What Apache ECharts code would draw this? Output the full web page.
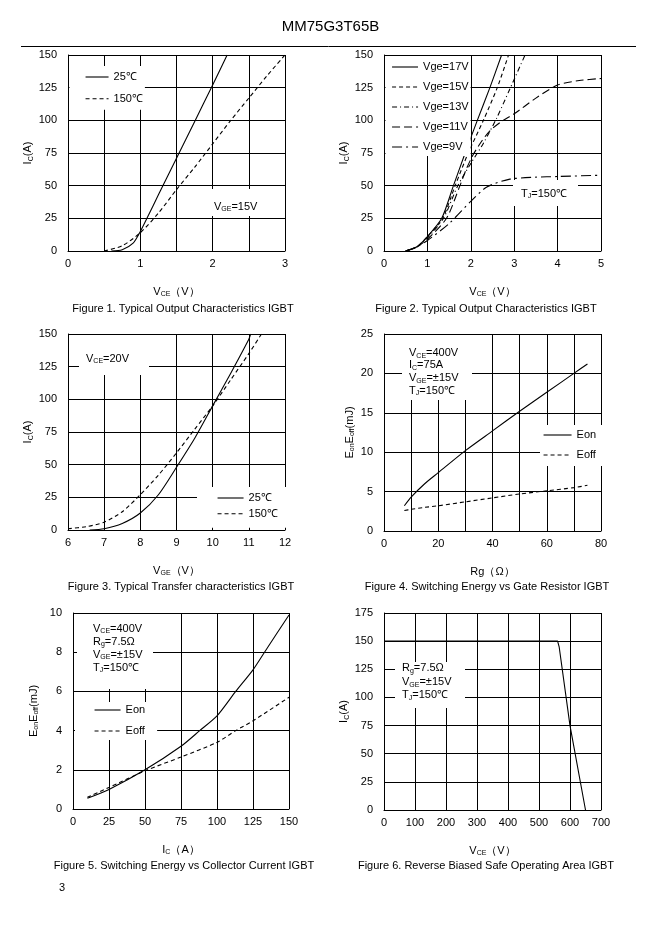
<!DOCTYPE html>
<html><head><meta charset="utf-8">
<script src="https://cdn.jsdelivr.net/npm/echarts/dist/echarts.min.js"></script>
<style>html,body{margin:0;padding:0;background:#fff}#c{width:661px;height:935px}</style>
</head><body><div id="c"></div>
<script>
// ---------- DATA ----------
// Figure 1: Ic vs Vce, Vge=15V
const f1x25 = [0.6, 0.75, 0.9, 1.0, 1.1, 1.25, 1.5, 1.75, 2.0, 2.2];
const f1y25 = [0, 1, 6, 15, 26, 43, 71, 99, 127, 150];
const f1x150 = [0.5, 0.75, 1.0, 1.25, 1.5, 1.75, 2.0, 2.25, 2.5, 2.75, 3.0];
const f1y150 = [0, 4, 14, 29, 47, 64, 82, 100, 117, 134, 150];
// Figure 2: Ic vs Vce at Tj=150C
const f2x17 = [0.5, 0.75, 1.0, 1.33, 1.6, 1.87, 2.15, 2.44, 2.71];
const f2y17 = [0, 3, 11, 25, 50, 75, 100, 125, 150];
const f2x15 = [0.5, 0.75, 1.0, 1.35, 1.64, 1.94, 2.29, 2.61, 2.87];
const f2y15 = [0, 3, 11, 25, 50, 75, 100, 125, 150];
const f2x13 = [0.5, 0.75, 1.0, 1.37, 1.7, 2.0, 2.3, 2.6, 2.9, 3.25];
const f2y13 = [0, 3, 10, 25, 50, 67, 83, 102, 124, 150];
const f2x11 = [0.5, 0.75, 1.0, 1.44, 1.75, 1.9, 2.06, 2.25, 2.44, 2.7, 3.0, 3.5, 4.0, 4.5, 5.0];
const f2y11 = [0, 3, 9, 25, 50, 63, 74, 84, 92, 99, 105, 117, 127, 130.5, 132];
const f2x9 = [0.5, 0.75, 1.0, 1.5, 2.0, 2.37, 2.9, 3.5, 4.0, 5.0];
const f2y9 = [0, 3, 8, 21, 38, 49, 55, 56.5, 57, 58];
// Figure 3: transfer characteristics
const f3x25 = [6.6, 7.0, 7.5, 8.0, 8.5, 9.0, 9.5, 10.0, 10.5, 11.0, 11.05];
const f3y25 = [0, 1, 5, 13, 27, 48, 70, 95, 120, 146, 150];
const f3x150 = [6.0, 6.5, 7.0, 7.5, 8.0, 8.5, 9.0, 9.5, 10.0, 10.5, 11.0, 11.35];
const f3y150 = [1, 2.5, 6, 14, 27, 42, 59, 77, 95, 115, 135, 150];
// Figure 4: switching energy vs Rg
const f4rg = [7.5, 10, 15, 20, 30, 40, 50, 60, 70, 75];
const f4eon = [3.2, 4.3, 6.0, 7.4, 10.2, 12.7, 15.2, 17.6, 20.0, 21.2];
const f4eoff = [2.6, 2.75, 3.0, 3.2, 3.7, 4.2, 4.7, 5.1, 5.5, 5.8];
// Figure 5: switching energy vs Ic
const f5icOn = [10, 25, 50, 75, 88, 100, 113, 125, 133, 150];
const f5eon = [0.55, 1.0, 2.0, 3.2, 4.0, 4.75, 6.0, 7.1, 8.0, 9.9];
const f5icOff = [10, 25, 50, 75, 100, 113, 125, 150];
const f5eoff = [0.6, 1.1, 1.95, 2.65, 3.4, 4.0, 4.5, 5.7];
// Figure 6: RBSOA
const f6vce = [0, 560, 565, 600, 650];
const f6ic = [150, 150, 145, 75, 0];

// ---------- CHART ----------
const FONT = '"Liberation Sans", Arial, Helvetica, sans-serif';
const RICH = {
  n: {fontSize: 11, fontFamily: FONT, color: '#000', lineHeight: 13},
  s: {fontSize: 7, fontFamily: FONT, color: '#000', lineHeight: 8, verticalAlign: 'bottom'}
};
const pts = (xs, ys) => xs.map((x, i) => [x, ys[i]]);

const grids = [
  {left: 68, top: 55, width: 217, height: 196},
  {left: 384, top: 55, width: 217, height: 196},
  {left: 68, top: 334, width: 217, height: 196},
  {left: 384, top: 334, width: 217, height: 197},
  {left: 73, top: 613, width: 216, height: 196},
  {left: 384, top: 613, width: 217, height: 197}
];

function xAx(i, min, max, interval, fmt, name) {
  return {
    type: 'value', gridIndex: i, min, max, interval,
    axisLine: {show: true, lineStyle: {color: '#000', width: 1}},
    axisTick: {show: false},
    splitLine: {show: true, lineStyle: {color: '#000', width: 1}},
    axisLabel: {color: '#000', fontSize: 11, fontFamily: FONT, margin: 7, formatter: fmt, showMinLabel: true, showMaxLabel: true},
    name, nameLocation: 'middle', nameGap: 34, nameTextStyle: {rich: RICH}
  };
}
function yAx(i, min, max, interval, name, gap) {
  return {
    type: 'value', gridIndex: i, min, max, interval,
    axisLine: {show: true, lineStyle: {color: '#000', width: 1}},
    axisTick: {show: false},
    splitLine: {show: true, lineStyle: {color: '#000', width: 1}},
    axisLabel: {color: '#000', fontSize: 11, fontFamily: FONT, margin: 11},
    name, nameLocation: 'middle', nameRotate: 90, nameGap: gap, nameTextStyle: {rich: RICH}
  };
}
const VCE = '{n|V}{s|CE}{n|（V）}';
const IC = '{n|I}{s|C}{n|(A)}';
const EE = '{n|E}{s|on}{n|E}{s|off}{n|(mJ)}';

function ln(name, gi, data, dash, smooth) {
  return {
    name, type: 'line', xAxisIndex: gi, yAxisIndex: gi, data,
    symbol: 'none', smooth: smooth === undefined ? 0.25 : smooth,
    lineStyle: {color: '#000', width: 1.1, type: dash || 'solid'},
    itemStyle: {color: '#000'}, silent: true, animation: false
  };
}
const D_SHORT = [4, 3], D_DD = [5, 3, 1, 3], D_LONG = [8, 4], D_LDD = [10, 4, 2, 4];

function leg(data, left, top, iw, gap, pad) {
  return {
    data, left, top, orient: 'vertical', itemWidth: iw, itemHeight: 12, itemGap: gap, itemTextGap: 2,
    padding: pad, backgroundColor: '#fff', selectedMode: false,
    itemStyle: {color: 'rgba(0,0,0,0)', opacity: 0, borderWidth: 0},
    lineStyle: {width: 1.1},
    textStyle: {fontSize: 11, fontFamily: FONT, color: '#000', lineHeight: 12},
    formatter: n => n.split('|')[1]
  };
}

function capt(text, x, y) {
  return {type: 'text', z: 100, style: {text, x, y, align: 'center', verticalAlign: 'middle', font: '11px ' + FONT, fill: '#000'}};
}
function box(x, y, w, h) {
  return {type: 'rect', z: 99, shape: {x, y, width: w, height: h}, style: {fill: '#fff'}};
}
function note(text, x, y, lh) {
  const r = {n: Object.assign({}, RICH.n, {lineHeight: lh}), s: RICH.s};
  return {type: 'text', z: 100, style: {text, x, y, align: 'left', verticalAlign: 'top', rich: r, fill: '#000'}};
}

const option = {
  animation: false,
  backgroundColor: '#fff',
  grid: grids,
  xAxis: [
    xAx(0, 0, 3, 0.5, v => Number.isInteger(v) ? String(v) : '', VCE),
    xAx(1, 0, 5, 1, null, VCE),
    xAx(2, 6, 12, 1, null, '{n|V}{s|GE}{n|（V）}'),
    xAx(3, 0, 80, 10, v => v % 20 === 0 ? String(v) : '', '{n|Rg（Ω）}'),
    xAx(4, 0, 150, 25, null, '{n|I}{s|C}{n|（A）}'),
    xAx(5, 0, 700, 100, null, VCE)
  ],
  yAxis: [
    yAx(0, 0, 150, 25, IC, 20),
    yAx(1, 0, 150, 25, IC, 20),
    yAx(2, 0, 150, 25, IC, 20),
    yAx(3, 0, 25, 5, EE, 28),
    yAx(4, 0, 10, 2, EE, 33),
    yAx(5, 0, 175, 25, IC, 22)
  ],
  legend: [
    leg(['1|25℃', '1|150℃'], 69.5, 66, 23, 9.7, [5, 2, 5, 15.5]),
    leg(['2|Vge=17V', '2|Vge=15V', '2|Vge=13V', '2|Vge=11V', '2|Vge=9V'], 385.5, 56, 26, 8, [5, 2, 3, 6]),
    leg(['3|25℃', '3|150℃'], 197, 487, 26, 3.7, [5, 9, 8, 20]),
    leg(['4|Eon', '4|Eoff'], 540, 425, 28, 8, [4, 6, 5, 3]),
    leg(['5|Eon', '5|Eoff'], 75, 702, 26, 9, [2, 12, 3, 19])
  ],
  series: [
    ln('1|25℃', 0, pts(f1x25, f1y25)),
    ln('1|150℃', 0, pts(f1x150, f1y150), D_SHORT),
    ln('2|Vge=17V', 1, pts(f2x17, f2y17)),
    ln('2|Vge=15V', 1, pts(f2x15, f2y15), D_SHORT),
    ln('2|Vge=13V', 1, pts(f2x13, f2y13), D_DD),
    ln('2|Vge=11V', 1, pts(f2x11, f2y11), D_LONG),
    ln('2|Vge=9V', 1, pts(f2x9, f2y9), D_LDD),
    ln('3|25℃', 2, pts(f3x25, f3y25)),
    ln('3|150℃', 2, pts(f3x150, f3y150), D_SHORT),
    ln('4|Eon', 3, pts(f4rg, f4eon)),
    ln('4|Eoff', 3, pts(f4rg, f4eoff), D_SHORT),
    ln('5|Eon', 4, pts(f5icOn, f5eon)),
    ln('5|Eoff', 4, pts(f5icOff, f5eoff), D_SHORT),
    ln('6|RBSOA', 5, pts(f6vce, f6ic), 'solid', false)
  ],
  graphic: {elements: [
    {type: 'text', z: 100, style: {text: 'MM75G3T65B', x: 330.5, y: 27, align: 'center', verticalAlign: 'middle', font: '15px ' + FONT, fill: '#000'}},
    {type: 'line', z: 100, shape: {x1: 21, y1: 46.5, x2: 636, y2: 46.5}, style: {stroke: '#000', lineWidth: 1}},
    capt('Figure 1. Typical Output Characteristics IGBT', 183, 309),
    capt('Figure 2. Typical Output Characteristics IGBT', 486, 309),
    capt('Figure 3. Typical Transfer characteristics IGBT', 181, 587),
    capt('Figure 4. Switching Energy vs Gate Resistor IGBT', 487, 587),
    capt('Figure 5. Switching Energy vs Collector Current IGBT', 184, 866),
    capt('Figure 6. Reverse Biased Safe Operating Area IGBT', 486, 866),
    {type: 'text', z: 100, style: {text: '3', x: 62, y: 888, align: 'center', verticalAlign: 'middle', font: '11px ' + FONT, fill: '#000'}},
    box(209, 189, 62, 27), note('{n|V}{s|GE}{n|=15V}', 214, 200, 13),
    box(513, 180, 65, 26), note('{n|T}{s|J}{n|=150℃}', 521, 187, 13),
    box(79, 335, 70, 40), note('{n|V}{s|CE}{n|=20V}', 86, 352, 13),
    box(402, 335, 70, 65), note('{n|V}{s|CE}{n|=400V}\n{n|I}{s|C}{n|=75A}\n{n|V}{s|GE}{n|=±15V}\n{n|T}{s|J}{n|=150℃}', 409, 346.5, 12.6),
    box(77, 614, 76, 75), note('{n|V}{s|CE}{n|=400V}\n{n|R}{s|g}{n|=7.5Ω}\n{n|V}{s|GE}{n|=±15V}\n{n|T}{s|J}{n|=150℃}', 93, 622, 13),
    box(395, 662, 70, 46), note('{n|R}{s|g}{n|=7.5Ω}\n{n|V}{s|GE}{n|=±15V}\n{n|T}{s|J}{n|=150℃}', 402, 661.5, 13.5)
  ]}
};
const chart = echarts.init(document.getElementById('c'), null, {renderer: 'canvas'});
chart.setOption(option);
</script></body></html>
